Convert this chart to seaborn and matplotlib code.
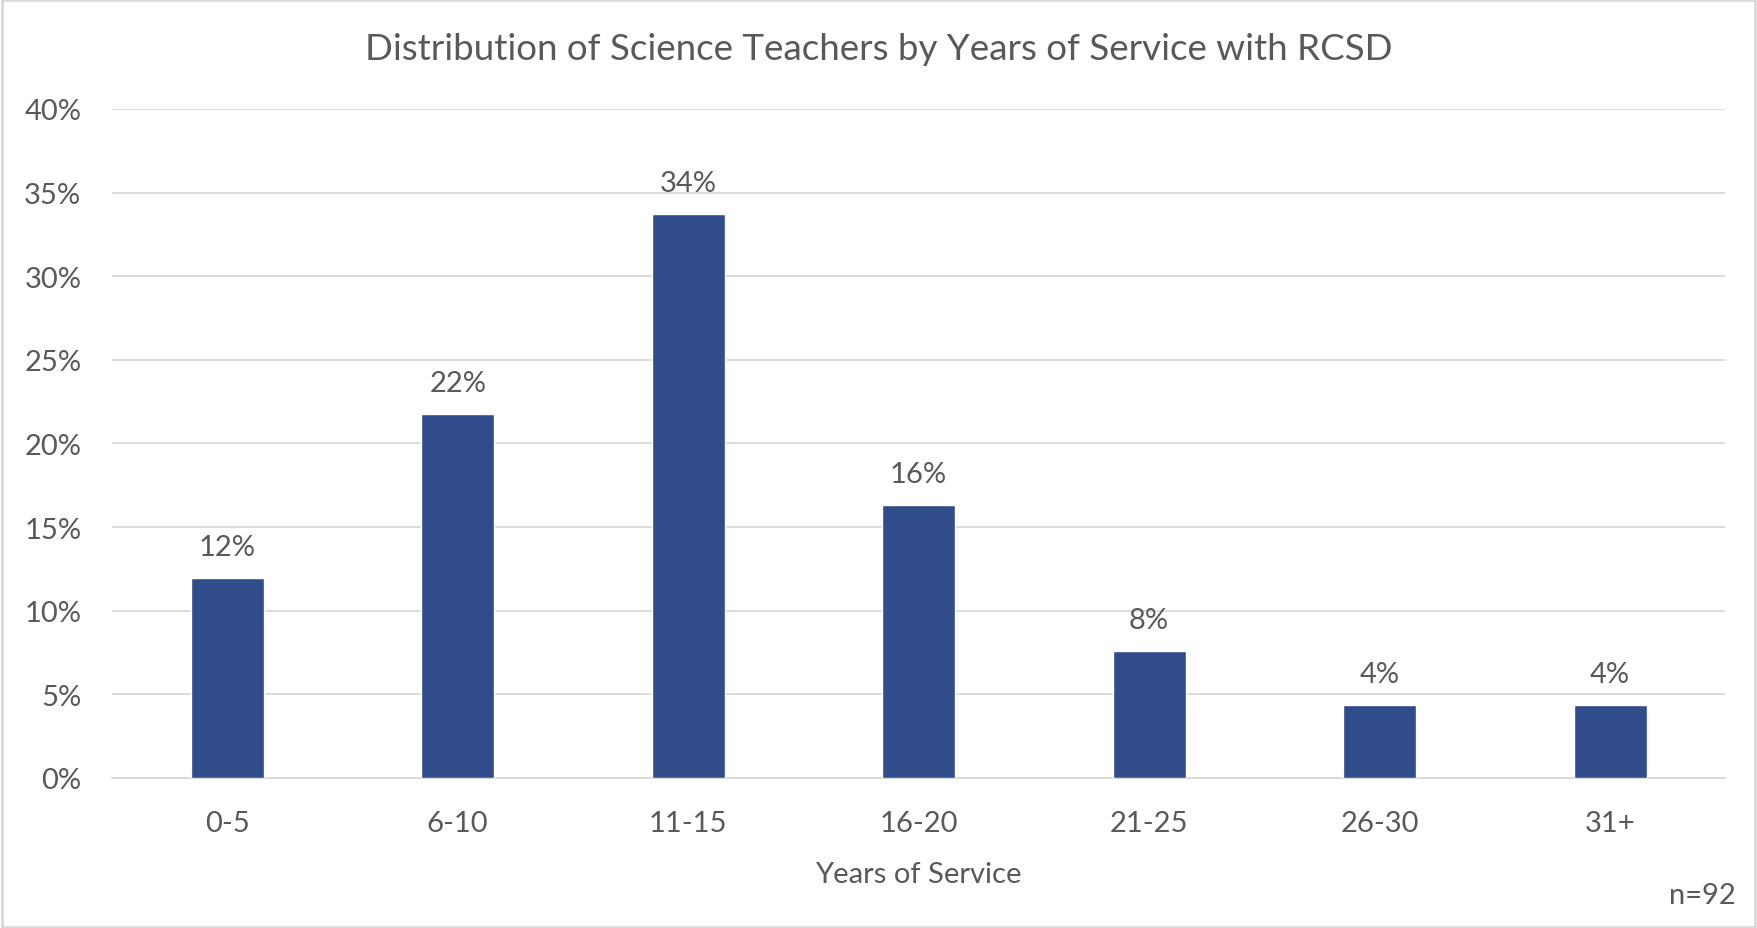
import matplotlib
matplotlib.use("Agg")
import matplotlib.pyplot as plt
import seaborn as sns
import pandas as pd
from matplotlib.ticker import PercentFormatter, MultipleLocator
from matplotlib.patches import Rectangle

# Years-of-service bands and teacher counts (n = 92)
bands = ["0-5", "6-10", "11-15", "16-20", "21-25", "26-30", "31+"]
counts = [11, 20, 31, 15, 7, 4, 4]
total = sum(counts)
shares = [c / total for c in counts]

df = pd.DataFrame({"band": bands, "share": shares})

sns.set_theme(style="white")
plt.rcParams["font.family"] = ["Lato", "DejaVu Sans"]
text_color = "#595959"
bar_color = "#314C8B"
grid_color = "#D9D9D9"

fig = plt.figure(figsize=(17.57, 9.29), dpi=100)
ax = fig.add_axes([0.0637, 0.1615, 0.9183, 0.7201])

sns.barplot(data=df, x="band", y="share", color=bar_color, saturation=1,
            width=0.316, ax=ax, zorder=3)

ax.set_ylim(0, 0.40)
ax.set_xlim(-0.5, len(bands) - 0.5)
ax.yaxis.set_major_locator(MultipleLocator(0.05))
ax.yaxis.set_major_formatter(PercentFormatter(1.0, decimals=0))
ax.grid(axis="y", color=grid_color, linewidth=1.3, zorder=0)
ax.grid(axis="x", visible=False)
for side in ["top", "right", "left"]:
    ax.spines[side].set_visible(False)
ax.spines["bottom"].set_color(grid_color)
ax.spines["bottom"].set_linewidth(1.3)

ax.tick_params(axis="y", length=0, pad=22, labelsize=21, labelcolor=text_color)
ax.tick_params(axis="x", length=0, pad=23, labelsize=21, labelcolor=text_color)
ax.set_ylabel("")
ax.set_xlabel("Years of Service", fontsize=21, color=text_color, labelpad=18)

for patch, val in zip(ax.patches, shares):
    ax.annotate(f"{val:.0%}", (patch.get_x() + patch.get_width() / 2, patch.get_height()),
                xytext=(0, 13), textcoords="offset points", ha="center", va="bottom",
                fontsize=21, color=text_color)

fig.text(0.5, 0.947, "Distribution of Science Teachers by Years of Service with RCSD",
         ha="center", va="center", fontsize=26.5, color=text_color)
fig.text(0.988, 0.035, "n=92", ha="right", va="center", fontsize=21, color=text_color)

fig.patches.append(Rectangle((0.001, 0.001), 0.998, 0.998, transform=fig.transFigure,
                             fill=False, edgecolor=grid_color, linewidth=2))

fig.savefig("out.png", dpi=100, facecolor="white")
